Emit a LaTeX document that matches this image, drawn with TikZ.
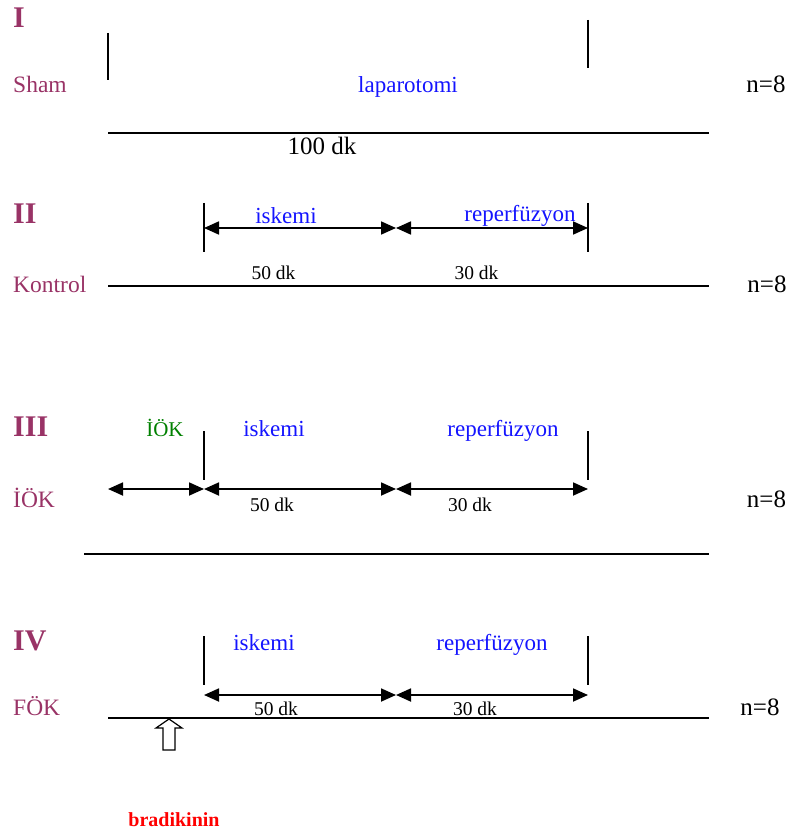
\documentclass[tikz,border=0pt]{standalone}
\usepackage{fontspec}
\setmainfont{Liberation Serif}
\usetikzlibrary{arrows.meta}
\definecolor{grp}{RGB}{153,51,102}
\definecolor{phaseblue}{RGB}{20,20,255}
\definecolor{iokgreen}{RGB}{0,128,0}
\definecolor{drugred}{RGB}{255,0,0}
\begin{document}
\begin{tikzpicture}[x=1pt,y=-1pt,
  grouplbl/.style={anchor=base west,text=grp,inner sep=0pt,font=\fontsize{30}{30}\selectfont\bfseries},
  rowlbl/.style={anchor=base west,text=grp,inner sep=0pt,font=\fontsize{23.5}{24}\selectfont},
  phase/.style={anchor=base,text=phaseblue,inner sep=0pt,font=\fontsize{23}{24}\selectfont},
  dur/.style={anchor=base,inner sep=0pt,font=\fontsize{19.5}{20}\selectfont},
  count/.style={anchor=base,inner sep=0pt,font=\fontsize{25}{26}\selectfont},
  axis/.style={line width=2pt},
  tick/.style={line width=1.6pt},
  span/.style={line width=1.8pt,{Triangle[length=15pt,width=13pt]}-{Triangle[length=15pt,width=13pt]}}]
\useasboundingbox (0,0) rectangle (792,834);

% ---------- Group I: Sham ----------
\node[grouplbl] (g1) at (13,28) {I};
\node[rowlbl] (sham) at (13,93) {Sham};
\node[phase] (lap) at (408,93) {laparotomi};
\node[count] (n1) at (766,93) {n=8};
\coordinate (t1a) at (108,33); \coordinate (t1b) at (108,80);
\coordinate (t1c) at (588,20); \coordinate (t1d) at (588,68);
\draw[tick] (t1a) -- (t1b);
\draw[tick] (t1c) -- (t1d);
\coordinate (a1s) at (108,133); \coordinate (a1e) at (709,133);
\draw[axis] (a1s) -- (a1e);
\node[count] (d1) at (322,155) {100 dk};

% ---------- Group II: Kontrol ----------
\node[grouplbl] (g2) at (13,223) {II};
\node[rowlbl] (kontrol) at (13,292) {Kontrol};
\node[phase] (isk2) at (286,223) {iskemi};
\node[phase] (rep2) at (520,222) {reperfüzyon};
\node[count] (n2) at (767,292) {n=8};
\coordinate (t2a) at (204,203); \coordinate (t2b) at (204,252);
\coordinate (t2c) at (588,203); \coordinate (t2d) at (588,252);
\draw[tick] (t2a) -- (t2b);
\draw[tick] (t2c) -- (t2d);
\coordinate (p2a) at (204,228); \coordinate (p2b) at (396,228); \coordinate (p2c) at (588,228);
\draw[span] (p2a) -- (p2b);
\draw[span] (p2b) -- (p2c);
\node[dur] (d2a) at (273.5,279) {50 dk};
\node[dur] (d2b) at (476.5,279) {30 dk};
\coordinate (a2s) at (108,286); \coordinate (a2e) at (709,286);
\draw[axis] (a2s) -- (a2e);

% ---------- Group III: IOK ----------
\node[grouplbl] (g3) at (13,436) {III};
\node[anchor=base,text=iokgreen,inner sep=0pt,font=\fontsize{21}{22}\selectfont] (iok3) at (165,436) {İÖK};
\node[phase] (isk3) at (274,436) {iskemi};
\node[phase] (rep3) at (503,436) {reperfüzyon};
\node[rowlbl] (iok) at (13,507) {İÖK};
\node[count] (n3) at (766.5,507) {n=8};
\coordinate (t3a) at (204,431); \coordinate (t3b) at (204,480);
\coordinate (t3c) at (588,431); \coordinate (t3d) at (588,480);
\draw[tick] (t3a) -- (t3b);
\draw[tick] (t3c) -- (t3d);
\coordinate (p3o) at (108,489); \coordinate (p3a) at (204,489);
\coordinate (p3b) at (396,489); \coordinate (p3c) at (588,489);
\draw[span] (p3o) -- (p3a);
\draw[span] (p3a) -- (p3b);
\draw[span] (p3b) -- (p3c);
\node[dur] (d3a) at (272,511) {50 dk};
\node[dur] (d3b) at (470,511) {30 dk};
\coordinate (a3s) at (84,554); \coordinate (a3e) at (709,554);
\draw[axis] (a3s) -- (a3e);

% ---------- Group IV: FOK ----------
\node[grouplbl] (g4) at (13,650) {IV};
\node[phase] (isk4) at (264,650) {iskemi};
\node[phase] (rep4) at (492,650) {reperfüzyon};
\node[rowlbl] (fok) at (13,715) {FÖK};
\node[count] (n4) at (760,715) {n=8};
\coordinate (t4a) at (204,636); \coordinate (t4b) at (204,685);
\coordinate (t4c) at (588,636); \coordinate (t4d) at (588,685);
\draw[tick] (t4a) -- (t4b);
\draw[tick] (t4c) -- (t4d);
\coordinate (p4a) at (204,695); \coordinate (p4b) at (396,695); \coordinate (p4c) at (588,695);
\draw[span] (p4a) -- (p4b);
\draw[span] (p4b) -- (p4c);
\node[dur] (d4a) at (276,715) {50 dk};
\node[dur] (d4b) at (475,715) {30 dk};
\coordinate (a4s) at (108,718); \coordinate (a4e) at (709,718);
\draw[axis] (a4s) -- (a4e);

% hollow block arrow marking the bradykinin dose
\draw[line width=1.2pt,fill=white,line join=miter]
  (169,719) -- (182,728) -- (175,728) -- (175,750) -- (163,750) -- (163,728) -- (156,728) -- cycle;
\node[anchor=base,text=drugred,inner sep=0pt,font=\fontsize{20}{20}\selectfont\bfseries] (brad) at (174,826) {bradikinin};
\end{tikzpicture}
\end{document}
